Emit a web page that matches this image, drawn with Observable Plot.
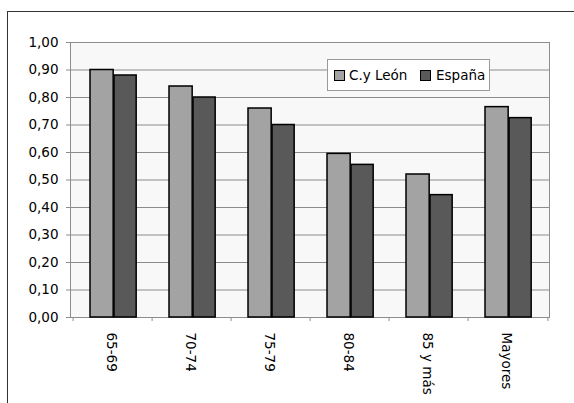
<!DOCTYPE html>
<html>
<head>
<meta charset="utf-8">
<script src="https://cdn.jsdelivr.net/npm/d3@7"></script>
<script src="https://cdn.jsdelivr.net/npm/@observablehq/plot@0.6"></script>
<style>
  html, body { margin: 0; padding: 0; background: #fff; overflow: hidden; }
  #wrap { position: relative; width: 574px; height: 403px; }
  #outer { position: absolute; left: 7px; top: 11px; width: 620px; height: 480px; border: 1.3px solid #333; box-sizing: border-box; pointer-events: none; }
  #legend { position: absolute; left: 327px; top: 59px; width: 163px; height: 32px; box-sizing: border-box; border: 1px solid #9a9a9a; background: #fff;
    font-family: "DejaVu Sans", sans-serif; font-size: 13.5px; color: #000; white-space: nowrap; }
  .sw { position: absolute; top: 10px; width: 9px; height: 9px; border: 1px solid #000; box-sizing: content-box; }
  .lt { position: absolute; top: 6px; line-height: 18px; }
</style>
</head>
<body>
<div id="wrap"></div>
<script>
const categories = ["65-69", "70-74", "75-79", "80-84", "85 y más", "Mayores"];
const seriesNames = ["C.y León", "España"];
const cylValues = [0.90, 0.84, 0.76, 0.595, 0.52, 0.765];
const espValues = [0.88, 0.80, 0.70, 0.555, 0.445, 0.725];
const yTicks = [0, 0.1, 0.2, 0.3, 0.4, 0.5, 0.6, 0.7, 0.8, 0.9, 1.0];
const seriesColors = ["#a3a3a3", "#595959"];

const cylRows = categories.map((c, i) => ({category: c, series: seriesNames[0], value: cylValues[i]}));
const espRows = categories.map((c, i) => ({category: c, series: seriesNames[1], value: espValues[i]}));

const W = 574, H = 403, mL = 70, mR = 25, mT = 42, mB = 86;
const band = (W - mL - mR) / categories.length;
const fmt = d => d3.format(".2f")(d).replace(".", ",");

const chart = Plot.plot({
  width: W, height: H,
  marginLeft: mL, marginRight: mR, marginTop: mT, marginBottom: mB,
  style: {background: "transparent", fontFamily: "DejaVu Sans, sans-serif", fontSize: "13.5px", color: "#000", overflow: "visible"},
  x: {domain: categories, padding: 0},
  y: {domain: [0, 1]},
  color: {domain: seriesNames, range: seriesColors},
  marks: [
    Plot.frame({fill: "#f8f8f8", stroke: "#8c8c8c"}),
    Plot.ruleY(yTicks, {y: d => d, stroke: "#8c8c8c", strokeWidth: 1}),
    Plot.barY(cylRows, {x: "category", y: "value", fill: "series", stroke: "#000", strokeWidth: 1.5, insetLeft: 17, insetRight: band - 41}),
    Plot.barY(espRows, {x: "category", y: "value", fill: "series", stroke: "#000", strokeWidth: 1.5, insetLeft: 41, insetRight: band - 64}),
    Plot.axisY({ticks: yTicks, tickFormat: fmt, tickSize: 4, tickPadding: 8, stroke: "#8c8c8c", fill: "#000", label: null}),
    Plot.axisX({tickSize: 4, tickFormat: () => "", dx: -band / 2, stroke: "#8c8c8c", label: null}),
    Plot.axisX({ticks: [categories[categories.length - 1]], tickSize: 4, tickFormat: () => "", dx: band / 2, stroke: "#8c8c8c", label: null}),
    Plot.axisX({tickSize: 0, tickPadding: 15, tickRotate: 90, dx: -2, fill: "#000", label: null})
  ]
});

const wrap = document.getElementById("wrap");
wrap.appendChild(chart);
chart.style.position = "absolute";
chart.style.left = "0px";
chart.style.top = "0px";

const outer = document.createElement("div");
outer.id = "outer";
wrap.appendChild(outer);

const legend = document.createElement("div");
legend.id = "legend";
const swLeft = [6, 92], txtLeft = [21, 108];
seriesNames.forEach((s, i) => {
  const sw = document.createElement("span");
  sw.className = "sw";
  sw.style.left = swLeft[i] + "px";
  sw.style.background = seriesColors[i];
  legend.appendChild(sw);
  const t = document.createElement("span");
  t.className = "lt";
  t.style.left = txtLeft[i] + "px";
  t.textContent = s;
  legend.appendChild(t);
});
wrap.appendChild(legend);
</script>
</body>
</html>
